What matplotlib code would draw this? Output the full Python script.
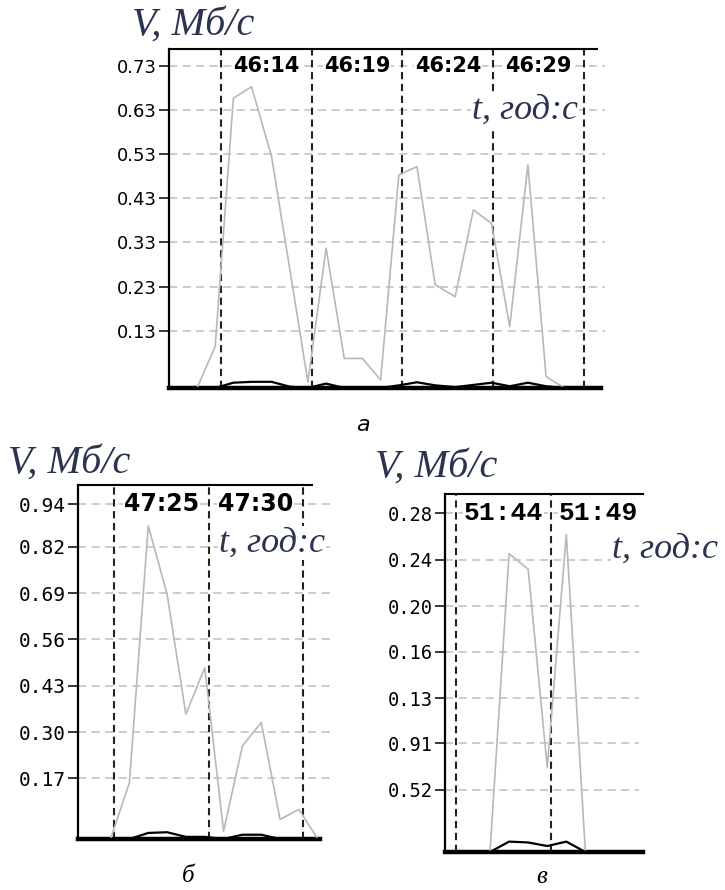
import matplotlib.pyplot as plt

# panel a: 46:xx, seconds after 46:00
t_a = [11.7, 12.7, 13.7, 14.7, 15.7, 16.8, 17.8, 18.8, 19.8, 20.8, 21.8, 22.8,
       23.8, 24.8, 25.8, 26.9, 27.9, 28.9, 29.9, 30.9, 31.9, 32.9, 33.9, 34.9]
gray_a = [0, 0, 0.094, 0.657, 0.683, 0.525, 0.27, 0.014, 0.317, 0.067, 0.067, 0.018,
          0.483, 0.502, 0.234, 0.207, 0.404, 0.373, 0.139, 0.506, 0.026, 0, 0, 0]
black_a = [0, 0, 0, 0.012, 0.014, 0.014, 0.003, 0, 0.01, 0, 0, 0,
           0.006, 0.013, 0.006, 0.002, 0.007, 0.012, 0.004, 0.012, 0.004, 0, 0, 0]
ticks_a = [0.13, 0.23, 0.33, 0.43, 0.53, 0.63, 0.73]
ticklab_a = ['0.13', '0.23', '0.33', '0.43', '0.53', '0.63', '0.73']
marks_a = [14, 19, 24, 29, 34]
marklab_a = ['46:14', '46:19', '46:24', '46:29', '']

# panel b: 47:xx
t_b = [23.6, 24.8, 25.8, 26.8, 27.8, 28.8, 29.8, 30.8, 31.8, 32.8, 33.8, 34.8, 35.8]
gray_b = [0, 0, 0.158, 0.879, 0.687, 0.350, 0.481, 0.022, 0.261, 0.327, 0.055, 0.083, 0]
black_b = [0, 0, 0, 0.017, 0.019, 0.006, 0.006, 0, 0.012, 0.012, 0, 0, 0]
ticks_b = [0.17, 0.30, 0.43, 0.56, 0.69, 0.82, 0.94]
ticklab_b = ['0.17', '0.30', '0.43', '0.56', '0.69', '0.82', '0.94']
marks_b = [25, 30, 35]
marklab_b = ['47:25', '47:30', '']

# panel c: 51:xx
t_c = [44.0, 44.8, 45.8, 46.8, 47.8, 48.8, 49.8, 50.8, 51.8, 52.8, 53.8]
gray_c = [0, 0, 0, 0.250, 0.237, 0.071, 0.266, 0, 0, 0, 0]
black_c = [0, 0, 0, 0.0087, 0.008, 0.005, 0.0087, 0, 0, 0, 0]
ticks_c = [0.052, 0.091, 0.129, 0.168, 0.206, 0.245, 0.284]
ticklab_c = ['0.52', '0.91', '0.13', '0.16', '0.20', '0.24', '0.28']
marks_c = [44, 49]
marklab_c = ['51:44', '51:49']

W, H = 725, 890
fig = plt.figure(figsize=(W / 100, H / 100), dpi=100)
TITLE_C = '#2b3350'


def px_axes(left, top, right, bottom):
    return fig.add_axes([left / W, 1 - bottom / H, (right - left) / W, (bottom - top) / H])


def ftext(x, y, s, **kw):
    fig.text(x / W, 1 - y / H, s, **kw)


def panel(ax, t, gray, black, xlim, ylim, ticks, ticklab, tfont, marks, marklab, mfont,
          grid_end, top_end):
    ax.set_xlim(xlim)
    ax.set_ylim(ylim)
    for y in ticks:
        ax.axhline(y, xmin=0, xmax=grid_end, color='#c8c8c8', lw=1.3,
                   ls=(0, (4.5, 3)), clip_on=False, zorder=1)
    for m in marks:
        ax.axvline(m, color='#222222', lw=1.5, ls=(0, (3.5, 2.2)), zorder=2)
    ax.plot(t, gray, color='#b8b8b8', lw=1.2, zorder=3)
    ax.plot(t, black, color='black', lw=1.6, zorder=4, clip_on=False)
    for m, lab in zip(marks, marklab):
        if lab:
            ax.text(m + 2.5, ticks[-1], lab, ha='center', va='center', zorder=5,
                    bbox=dict(fc='white', ec='none', pad=0.5), **mfont)
    ax.spines['right'].set_visible(False)
    ax.spines['bottom'].set_linewidth(3.2)
    ax.spines['left'].set_linewidth(1.6)
    ax.spines['top'].set_linewidth(1.5)
    ax.spines['top'].set_bounds(xlim[0], top_end)
    ax.set_xticks([])
    ax.set_yticks(ticks)
    ax.set_yticklabels(ticklab, **tfont)
    ax.tick_params(axis='y', length=7, width=1.1, pad=1.5)


ax_a = px_axes(169, 49, 601, 388)
panel(ax_a, t_a, gray_a, black_a, (11.16, 34.92), (0, 0.7686), ticks_a, ticklab_a,
      dict(family='DejaVu Sans', size=13), marks_a, marklab_a,
      dict(family='DejaVu Sans', weight='bold', size=15), 1.01, 34.7)

ax_b = px_axes(78, 485, 320, 839)
panel(ax_b, t_b, gray_b, black_b, (23.07, 35.92), (0, 0.9935), ticks_b, ticklab_b,
      dict(family='DejaVu Sans Mono', size=14), marks_b, marklab_b,
      dict(family='DejaVu Sans', weight='bold', size=17), 1.05, 35.5)

ax_c = px_axes(445, 494, 643, 852)
panel(ax_c, t_c, gray_c, black_c, (43.44, 53.82), (0, 0.300), ticks_c, ticklab_c,
      dict(family='DejaVu Sans Mono', size=13.5), marks_c, marklab_c,
      dict(family='Liberation Mono', weight='bold', size=19), 0.98, 53.82)

# axis titles
tfont = dict(family='Liberation Serif', style='italic', color=TITLE_C, size=29)
ftext(132, 35, 'V, Мб/с', ha='left', va='baseline', **tfont)
ftext(8, 473, 'V, Мб/с', ha='left', va='baseline', **tfont)
ftext(375, 477, 'V, Мб/с', ha='left', va='baseline', **tfont)

xfont = dict(family='Liberation Serif', style='italic', color=TITLE_C, size=26,
             bbox=dict(fc='white', ec='none', pad=0.5))
ftext(578, 110, 't, год:с', ha='right', va='center', **xfont)
ftext(325, 543, 't, год:с', ha='right', va='center', **xfont)
ftext(718, 549, 't, год:с', ha='right', va='center', **xfont)

# captions
ftext(363, 425, 'а', ha='center', va='center', family='DejaVu Sans', style='italic', size=16)
ftext(188, 876, 'б', ha='center', va='center', family='Liberation Serif', style='italic', size=18)
ftext(542, 877, 'в', ha='center', va='center', family='Liberation Serif', style='italic', size=18)

fig.savefig('out.png', dpi=100)
